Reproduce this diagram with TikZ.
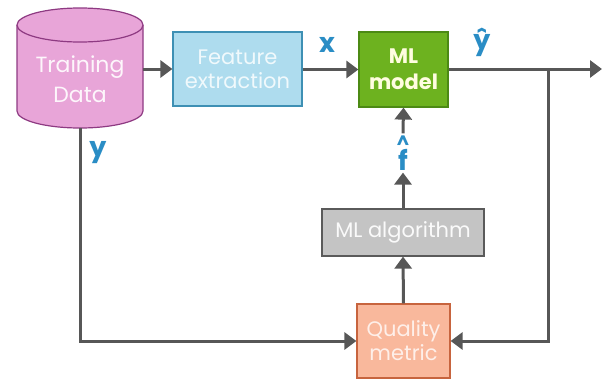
\documentclass[tikz,border=0pt]{standalone}
\usepackage{fontspec}
\setmainfont{Poppins}
\usetikzlibrary{arrows.meta}
\definecolor{lineg}{HTML}{575757}
\definecolor{lblue}{HTML}{2A8DC5}
\definecolor{cylfill}{HTML}{E8A5D8}
\definecolor{cyledge}{HTML}{8E3A82}
\definecolor{fefill}{HTML}{AEDCEE}
\definecolor{feedge}{HTML}{3E90B4}
\definecolor{mlfill}{HTML}{6DB21F}
\definecolor{mledge}{HTML}{4C8A14}
\definecolor{algfill}{HTML}{C4C4C4}
\definecolor{algedge}{HTML}{5A5A5A}
\definecolor{qmfill}{HTML}{F9B89C}
\definecolor{qmedge}{HTML}{C7643E}
\tikzset{
  blk/.style={draw, line width=1.2pt, align=center, inner sep=0pt, font=\fontsize{21}{24}\selectfont},
  arr/.style={draw=lineg, line width=3pt, -{Triangle[length=12pt,width=17pt]}},
  lbl/.style={text=lblue, font=\fontsize{27}{30}\selectfont\bfseries, inner sep=0pt},
}
\begin{document}
\begin{tikzpicture}[x=1pt,y=-1pt]
\useasboundingbox (0,0) rectangle (610,380);
% cylinder
\node (td) [minimum width=126pt, minimum height=121pt, inner sep=0pt] at (80,67.5) {};
\fill[cylfill] (17,25) -- (17,111) arc[start angle=180,end angle=360,x radius=63pt,y radius=17pt] -- (143,25) -- cycle;
\draw[cyledge, line width=1.2pt] (17,25) -- (17,111) arc[start angle=180,end angle=360,x radius=63pt,y radius=17pt] -- (143,25);
\draw[cyledge, fill=cylfill, line width=1.2pt] (80,25) ellipse[x radius=63pt, y radius=17pt];
\node (tdtext) [align=center, text=white!90!cylfill, font=\fontsize{22}{30}\selectfont, inner sep=0pt] at (80,79) {Training\\Data};
% boxes
\node (fe) [blk, draw=feedge, fill=fefill, text=white!82!fefill, minimum width=129pt, minimum height=74pt] at (237.5,69) {Feature\\extraction};
\node (ml) [blk, draw=mledge, fill=mlfill, text=yellow!12!white, font=\fontsize{21}{26}\selectfont\bfseries, minimum width=89pt, minimum height=75pt] at (403.5,69.5) {ML\\model};
\node (alg) [blk, draw=algedge, fill=algfill, text=white!92!algfill, minimum width=162pt, minimum height=47pt] at (403,232.5) {ML algorithm};
\node (qm) [blk, draw=qmedge, fill=qmfill, text=white!78!qmfill, minimum width=93pt, minimum height=74pt] at (403.5,341) {Quality\\metric};
% labels
\node (fhat) [lbl, inner sep=2pt, align=center, font=\fontsize{27}{18}\selectfont\bfseries] at (403,153) {{\fontsize{18}{18}\selectfont\textasciicircum}\\f};
\node (xl) [lbl] at (327,45) {x};
\node (yhl) [lbl] at (482,42) {ŷ};
\node (yl) [lbl] at (98,153) {y};
% connectors
\coordinate (out) at (602,69);
\coordinate (br) at (548,69);
\draw[arr] (td.east |- fe.west) -- (fe.west);
\draw[arr] (fe.east |- ml.west) -- (ml.west);
\draw[arr] (ml.east |- out) -- (out);
\draw[arr] (br) |- (qm.east);
\draw[arr] (td.south) |- (qm.west);
\draw[arr] (qm.north) -- (alg.south);
\draw[arr] (alg.north) -- (fhat.south);
\draw[arr] (fhat.north) -- (ml.south);
\end{tikzpicture}
\end{document}
